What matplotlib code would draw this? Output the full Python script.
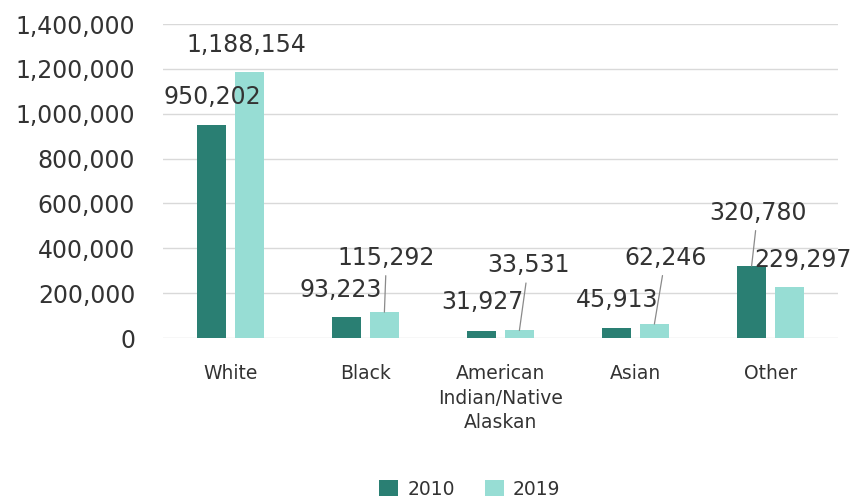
import matplotlib
matplotlib.use("Agg")
import matplotlib.pyplot as plt
import numpy as np
from matplotlib.ticker import FuncFormatter

categories = ["White", "Black", "American\nIndian/Native\nAlaskan", "Asian", "Other"]
values_2010 = [950202, 93223, 31927, 45913, 320780]
values_2019 = [1188154, 115292, 33531, 62246, 229297]
series_names = ["2010", "2019"]
yticks = [0, 200000, 400000, 600000, 800000, 1000000, 1200000, 1400000]

c2010 = "#2a7f73"
c2019 = "#97ddd4"
txt = "#333333"

plt.rcParams['font.family'] = ['DejaVu Sans']

fig = plt.figure(figsize=(8.59, 4.98), dpi=100)
ax = fig.add_axes([163/859, 1-338/498, (838-163)/859, (338-24)/498])

x = np.arange(len(categories))
w = 0.22
off = 0.14
b1 = ax.bar(x - off, values_2010, w, color=c2010, label=series_names[0], zorder=3)
b2 = ax.bar(x + off, values_2019, w, color=c2019, label=series_names[1], zorder=3)

ax.set_ylim(0, 1400000)
ax.set_xlim(-0.5, len(categories) - 0.5)
ax.set_yticks(yticks)
ax.yaxis.set_major_formatter(FuncFormatter(lambda v, p: f"{int(v):,}"))
ax.grid(axis='y', color='#d9d9d9', linewidth=1, zorder=0)
for s in ax.spines.values():
    s.set_visible(False)
ax.tick_params(axis='y', length=0, labelsize=17, labelcolor=txt, pad=20)
ax.set_xticks(x)
ax.set_xticklabels(categories, fontsize=13.5, color=txt, linespacing=1.35, va='top')
ax.tick_params(axis='x', length=0, pad=19)

# label offsets in pixels (dx, dy) and whether a leader line is drawn
off2010 = [(1, 28, False), (-6, 27, False), (1, 29, False), (1, 28, False), (6, 53, True)]
off2019 = [(-3, 27, False), (2, 54, True), (9, 65, True), (11, 66, True), (14, 27, False)]

def label(xpos, val, o):
    dx, dy, lead = o
    kw = {}
    if lead:
        kw['arrowprops'] = dict(arrowstyle='-', color='#8a8a8a', lw=0.9, shrinkA=2, shrinkB=0)
    ax.annotate(f"{val:,}", xy=(xpos, val), xytext=(dx, dy), textcoords='offset pixels',
                ha='center', va='center', fontsize=17, color=txt, zorder=5, **kw)

for i in range(len(categories)):
    label(x[i] - off, values_2010[i], off2010[i])
    label(x[i] + off, values_2019[i], off2019[i])

fig.legend(handles=[b1, b2], labels=series_names, loc='center', bbox_to_anchor=(470/859, 1-489/498),
           ncol=2, frameon=False, fontsize=13.5, handlelength=1.0, handleheight=1.0,
           handletextpad=0.5, columnspacing=1.6, labelcolor=txt)

fig.savefig("out.png", dpi=100)
